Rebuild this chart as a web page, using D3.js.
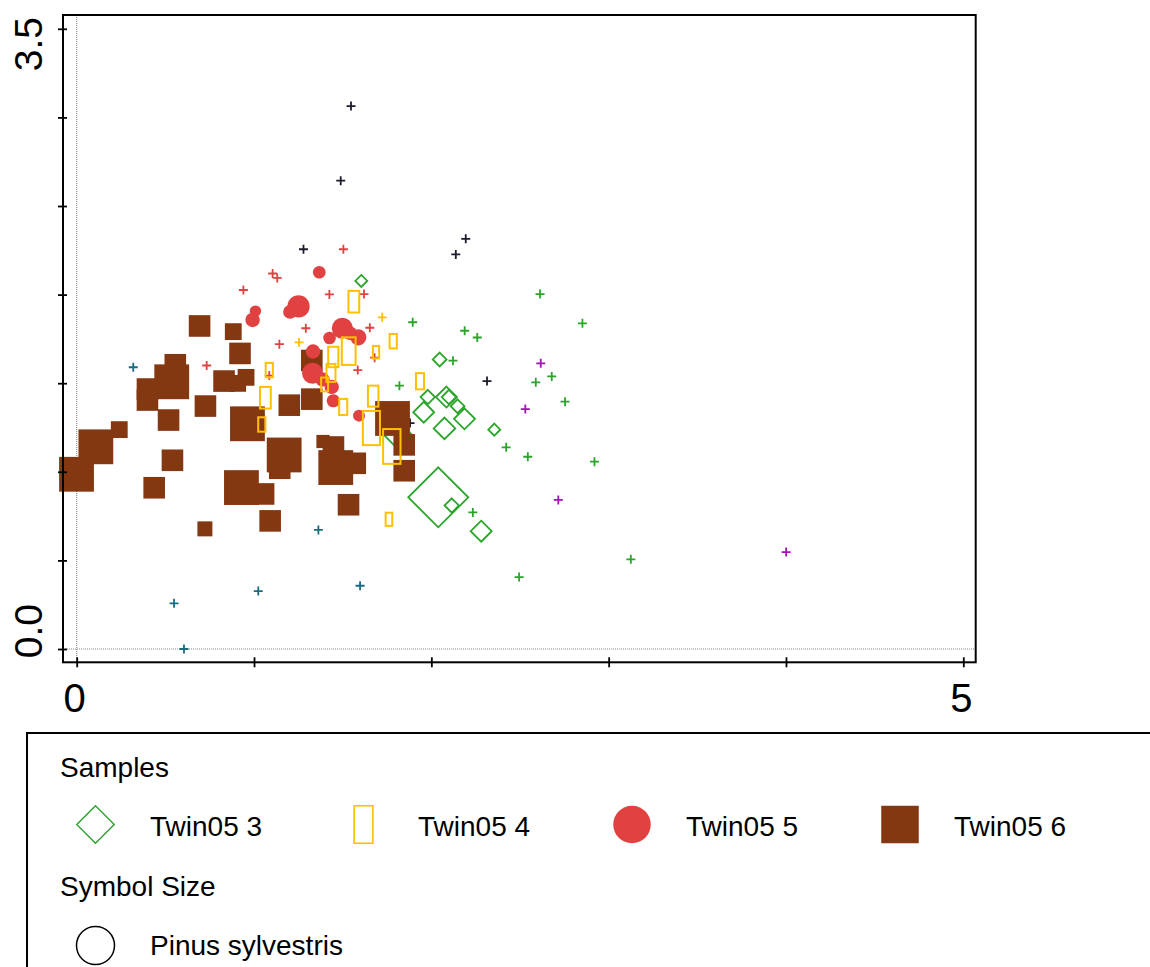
<!DOCTYPE html>
<html>
<head>
<meta charset="utf-8">
<script src="https://cdn.jsdelivr.net/npm/d3@7"></script>
<style>
  body { margin: 0; background: #fff; }
  svg { display: block; font-family: "Liberation Sans", Arial, sans-serif; }
</style>
</head>
<body>
<svg id="chart" width="1150" height="967"></svg>
<script>
// sample scores [axis 1, axis 2, Pinus sylvestris %]
const twin3 = [
  [2.047, 1.634, 23], [1.980, 1.422, 24], [1.957, 1.336, 35], [2.085, 1.422, 35],
  [2.099, 1.422, 24], [2.148, 1.370, 23], [2.187, 1.299, 35], [2.074, 1.245, 36],
  [2.355, 1.238, 20], [2.039, 0.856, 100], [2.115, 0.810, 24], [2.281, 0.665, 35],
  [1.807, 1.213, 47], [1.605, 2.077, 20]
];
const twin4 = [
  [1.563, 1.960, 36], [1.785, 1.737, 24], [1.688, 1.675, 21], [1.534, 1.681, 46],
  [1.447, 1.648, 34], [1.434, 1.558, 30], [1.398, 1.493, 23], [1.086, 1.574, 24],
  [1.064, 1.418, 36], [1.044, 1.267, 24], [1.503, 1.366, 27], [1.672, 1.427, 35],
  [1.662, 1.247, 57], [1.777, 1.143, 58], [1.936, 1.511, 27], [1.761, 0.732, 22]
];
const twin5 = [
  [1.368, 2.126, 21], [1.251, 1.933, 37], [1.203, 1.902, 23], [1.008, 1.907, 19],
  [0.992, 1.857, 24], [1.498, 1.810, 35], [1.588, 1.759, 27], [1.541, 1.783, 23],
  [1.426, 1.755, 21], [1.333, 1.679, 24], [1.330, 1.556, 35], [1.386, 1.521, 24],
  [1.438, 1.479, 24], [1.447, 1.401, 22], [1.592, 1.317, 20]
];
const twin6 = [
  [0.693, 1.823, 36], [0.883, 1.791, 28], [0.921, 1.668, 36], [0.556, 1.604, 36],
  [0.536, 1.508, 58], [0.399, 1.467, 36], [0.399, 1.405, 36], [0.518, 1.292, 36],
  [0.726, 1.371, 36], [0.831, 1.512, 36], [0.908, 1.499, 28], [0.955, 1.533, 28],
  [0.963, 1.271, 58], [0.108, 1.141, 58], [0.240, 1.238, 28], [-0.001, 0.986, 58],
  [0.540, 1.065, 36], [0.437, 0.910, 36], [0.929, 0.911, 58], [1.054, 0.875, 36],
  [0.723, 0.678, 25], [1.091, 0.723, 36], [1.199, 1.376, 36], [1.326, 1.410, 36],
  [1.326, 1.628, 36], [1.170, 1.095, 58], [1.145, 1.020, 36], [1.389, 1.171, 22],
  [1.448, 1.140, 36], [1.461, 1.024, 58], [1.571, 1.048, 36], [1.533, 0.814, 36],
  [1.781, 1.301, 58], [1.847, 1.152, 36], [1.847, 1.006, 36]
];

// species scores [axis 1, axis 2], grouped by colour
const taxaDark = [
  [1.547, 3.064], [1.489, 2.643], [1.279, 2.256], [2.194, 2.315],
  [2.138, 2.227], [2.314, 1.512], [1.880, 1.275]
];
const taxaRed = [
  [1.504, 2.256], [1.105, 2.119], [1.131, 2.094], [0.940, 2.026], [1.425, 2.001],
  [1.620, 2.003], [1.292, 1.810], [1.653, 1.813], [1.143, 1.720], [1.680, 1.644],
  [1.585, 1.574], [0.733, 1.600], [1.086, 1.543]
];
const taxaYellow = [[1.723, 1.872], [1.254, 1.730]];
const taxaGreen = [
  [2.613, 2.003], [2.852, 1.838], [1.895, 1.844], [2.188, 1.796], [2.259, 1.758],
  [2.122, 1.627], [1.820, 1.486], [2.589, 1.505], [2.679, 1.538], [2.754, 1.396],
  [2.422, 1.138], [2.544, 1.085], [2.920, 1.057], [2.234, 0.771], [2.495, 0.406],
  [3.125, 0.506]
];
const taxaPurple = [[2.617, 1.612], [2.530, 1.354], [2.716, 0.841], [4.001, 0.547]];
const taxaTeal = [
  [0.319, 1.590], [1.363, 0.672], [0.549, 0.258], [1.024, 0.327], [1.598, 0.357], [0.605, 0.0]
];

const xTicks = [0, 1, 2, 3, 4, 5];
const yTicks = [0, 0.5, 1, 1.5, 2, 2.5, 3, 3.5];
const xLabels = [0, 5];
const yLabels = ["0.0", "3.5"];
const sampleNames = ["Twin05 3", "Twin05 4", "Twin05 5", "Twin05 6"];

const colGreen = "#2aa52a",
  colYellow = "#ffc000",
  colRed = "#e14141",
  colBrown = "#843812";

const svg = d3.select("#chart");

const x = d3.scaleLinear().domain([0, 5]).range([76.7, 963.3]);
const y = d3.scaleLinear().domain([0, 3.5]).range([649, 28.8]);
const size = d3.scaleLinear().domain([0, 100]).range([0, 60]); // symbol size in px

const frame = { left: 63, top: 15, right: 975.7, bottom: 662.3 };

// zero lines (dotted)
svg.append("line")
  .attr("x1", x(0)).attr("x2", x(0))
  .attr("y1", frame.top).attr("y2", frame.bottom)
  .attr("stroke", "#777").attr("stroke-width", 1).attr("stroke-dasharray", "1,1");
svg.append("line")
  .attr("x1", frame.left).attr("x2", frame.right)
  .attr("y1", y(0)).attr("y2", y(0))
  .attr("stroke", "#888").attr("stroke-width", 1).attr("stroke-dasharray", "1,1");

// species crosses (drawn underneath the samples)
const taxa = [
  [taxaDark, "#1c1c2c"], [taxaRed, colRed], [taxaYellow, colYellow],
  [taxaGreen, colGreen], [taxaPurple, "#a312b5"], [taxaTeal, "#1a6b82"]
];
const gTaxa = svg.append("g");
for (const [pts, col] of taxa) {
  gTaxa.selectAll(null)
    .data(pts)
    .join("path")
    .attr("transform", (d) => `translate(${x(d[0])},${y(d[1])})`)
    .attr("d", "M-4.5,0H4.5M0,-4.5V4.5")
    .attr("stroke", col)
    .attr("stroke-width", 1.8)
    .attr("fill", "none");
}

// Twin05 3 - diamonds
svg.append("g").selectAll("path")
  .data(twin3)
  .join("path")
  .attr("transform", (d) => `translate(${x(d[0])},${y(d[1])})`)
  .attr("d", (d) => {
    const h = size(d[2]) / 2;
    return `M0,${-h}L${h},0L0,${h}L${-h},0Z`;
  })
  .attr("fill", "none")
  .attr("stroke", colGreen)
  .attr("stroke-width", 1.8);

// Twin05 6 - filled squares
svg.append("g").selectAll("rect")
  .data(twin6)
  .join("rect")
  .attr("x", (d) => x(d[0]) - size(d[2]) / 2)
  .attr("y", (d) => y(d[1]) - size(d[2]) / 2)
  .attr("width", (d) => size(d[2]))
  .attr("height", (d) => size(d[2]))
  .attr("fill", colBrown);

// Twin05 5 - filled circles
svg.append("g").selectAll("circle")
  .data(twin5)
  .join("circle")
  .attr("cx", (d) => x(d[0]))
  .attr("cy", (d) => y(d[1]))
  .attr("r", (d) => size(d[2]) / 2)
  .attr("fill", colRed);

// Twin05 4 - narrow open rectangles
svg.append("g").selectAll("rect")
  .data(twin4)
  .join("rect")
  .attr("x", (d) => x(d[0]) - size(d[2]) / 4)
  .attr("y", (d) => y(d[1]) - size(d[2]) / 2)
  .attr("width", (d) => size(d[2]) / 2)
  .attr("height", (d) => size(d[2]))
  .attr("fill", "none")
  .attr("stroke", colYellow)
  .attr("stroke-width", 2);

// frame
svg.append("rect")
  .attr("x", frame.left).attr("y", frame.top)
  .attr("width", frame.right - frame.left)
  .attr("height", frame.bottom - frame.top)
  .attr("fill", "none").attr("stroke", "#000").attr("stroke-width", 2);

// axes: ticks cross the frame line
const yAxis = svg.append("g")
  .attr("transform", `translate(${frame.left},0)`)
  .call(d3.axisLeft(y).tickValues(yTicks).tickSize(5).tickFormat(""));
yAxis.select(".domain").remove();
yAxis.selectAll("line").attr("x2", -5).attr("x1", 4).attr("stroke-width", 1.8);

const xAxis = svg.append("g")
  .attr("transform", `translate(0,${frame.bottom})`)
  .call(d3.axisBottom(x).tickValues(xTicks).tickSize(5).tickFormat(""));
xAxis.select(".domain").remove();
xAxis.selectAll("line").attr("y1", -5).attr("y2", 5).attr("stroke-width", 1.8);

svg.append("g").selectAll("text")
  .data(xLabels)
  .join("text")
  .attr("x", (d) => x(d) - 2)
  .attr("y", 712)
  .attr("text-anchor", "middle")
  .attr("font-size", 40)
  .text((d) => d);

// y labels rotated, kept inside the axis extent
svg.append("text")
  .attr("transform", `translate(42,${frame.bottom - 4}) rotate(-90)`)
  .attr("text-anchor", "start")
  .attr("font-size", 39)
  .text(yLabels[0]);
svg.append("text")
  .attr("transform", `translate(42,${frame.top + 2}) rotate(-90)`)
  .attr("text-anchor", "end")
  .attr("font-size", 39)
  .text(yLabels[1]);

// legend
const lg = svg.append("g");
lg.append("rect")
  .attr("x", 27).attr("y", 733)
  .attr("width", 1200).attr("height", 300)
  .attr("fill", "none").attr("stroke", "#000").attr("stroke-width", 2);

lg.append("text").attr("x", 60).attr("y", 777).attr("font-size", 28).text("Samples");
lg.append("text").attr("x", 60).attr("y", 896).attr("font-size", 28).text("Symbol Size");

const legendX = [95.5, 363.5, 632, 900];
const textX = [150, 418, 686, 954];
const ly = 824.5, ls = 37.5;

lg.append("path")
  .attr("d", `M${legendX[0]},${ly - ls / 2}L${legendX[0] + ls / 2},${ly}L${legendX[0]},${ly + ls / 2}L${legendX[0] - ls / 2},${ly}Z`)
  .attr("fill", "none").attr("stroke", colGreen).attr("stroke-width", 1.4);
lg.append("rect")
  .attr("x", legendX[1] - ls / 4).attr("y", ly - ls / 2)
  .attr("width", ls / 2).attr("height", ls)
  .attr("fill", "none").attr("stroke", colYellow).attr("stroke-width", 1.6);
lg.append("circle")
  .attr("cx", legendX[2]).attr("cy", ly).attr("r", ls / 2)
  .attr("fill", colRed);
lg.append("rect")
  .attr("x", legendX[3] - ls / 2).attr("y", ly - ls / 2)
  .attr("width", ls).attr("height", ls)
  .attr("fill", colBrown);

lg.selectAll(".sname")
  .data(sampleNames)
  .join("text")
  .attr("class", "sname")
  .attr("x", (d, i) => textX[i])
  .attr("y", 836)
  .attr("font-size", 28)
  .text((d) => d);

lg.append("circle")
  .attr("cx", 95.5).attr("cy", 945.5).attr("r", 19)
  .attr("fill", "none").attr("stroke", "#000").attr("stroke-width", 1.5);
lg.append("text").attr("x", 150).attr("y", 955).attr("font-size", 28).text("Pinus sylvestris");
</script>
</body>
</html>
